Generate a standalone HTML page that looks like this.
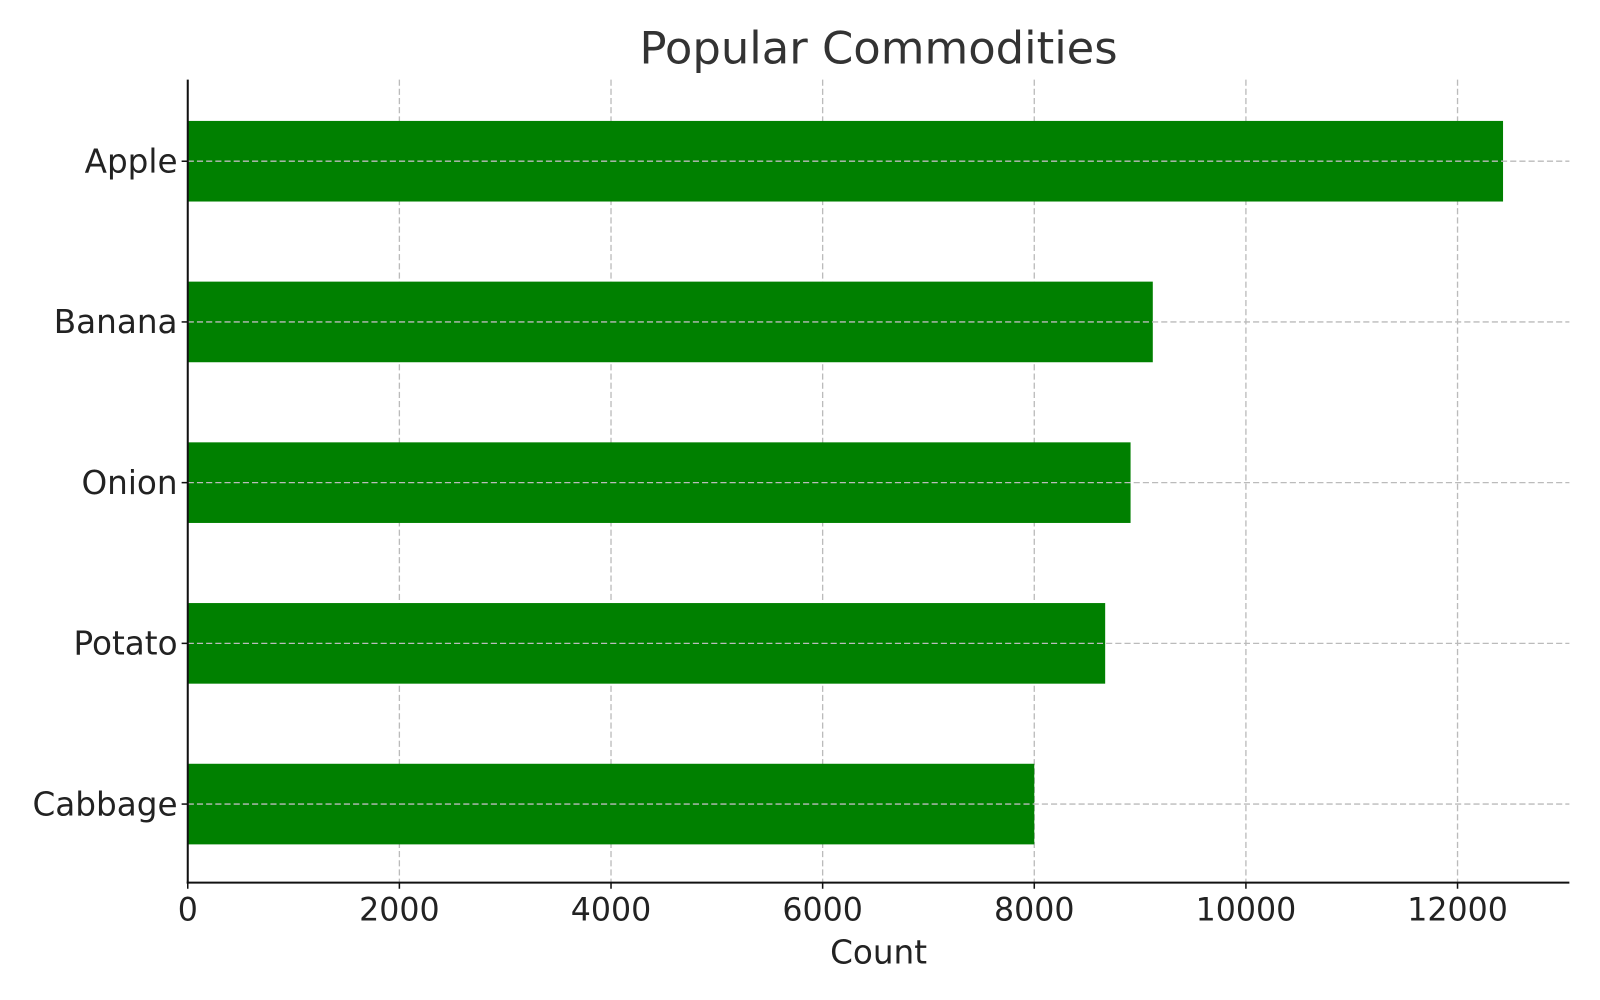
<!DOCTYPE html>
<html><head><meta charset="utf-8">
<style>
html,body{margin:0;padding:0;background:#fff;}
svg{display:block;font-family:"DejaVu Sans","Liberation Sans",sans-serif;}
</style></head>
<body>
<svg id="chart" width="1600" height="1000" viewBox="0 0 1600 1000">
<g transform="scale(1.0204)">
<text x="861" y="62" text-anchor="middle" font-size="44" fill="#333">Popular Commodities</text>
<g id="grid"></g>
<g id="bars"></g>
<g id="hgrid"></g>
<g id="axes"></g>
<text x="861" y="944" text-anchor="middle" font-size="32" fill="#222">Count</text>
</g>
</svg>
<script>
const categories = ["Apple","Banana","Onion","Potato","Cabbage"];
const values = [12430, 9120, 8910, 8670, 8000];
const xTicks = [0, 2000, 4000, 6000, 8000, 10000, 12000];

const NS = "http://www.w3.org/2000/svg";
const plotLeft = 184, plotRight = 1538, plotTop = 78, plotBottom = 865;
function xScale(v){ return plotLeft + v / 2000 * 207.4; }
function yScale(i){ return 158 + i * 157.5; }
const barH = 79;

function mk(tag, attrs, parent){
  const e = document.createElementNS(NS, tag);
  for (const k in attrs) e.setAttribute(k, attrs[k]);
  parent.appendChild(e);
  return e;
}
const gridG = document.getElementById("grid");
const hgridG = document.getElementById("hgrid");
const barsG = document.getElementById("bars");
const axesG = document.getElementById("axes");

xTicks.forEach(t => {
  const x = xScale(t);
  if (t > 0) {
    const g = mk("line", {x1:x, x2:x, y1:plotTop, y2:plotBottom, stroke:"#bbb", "stroke-width":1.3, "stroke-dasharray":"6,3"}, gridG);
    
    
  }
  const tk = mk("line", {x1:x, x2:x, y1:plotBottom, y2:plotBottom+6, stroke:"#111", "stroke-width":1.5}, axesG);
  
  
  const lb = mk("text", {x:x, y:plotBottom+37, "text-anchor":"middle", "font-size":31, fill:"#222"}, axesG);
  lb.textContent = t;
  
  
});

categories.forEach((c, i) => {
  const y = yScale(i);
  const r = mk("rect", {x:xScale(0), y:y-barH/2, width:xScale(values[i])-xScale(0), height:barH, fill:"#008000"}, barsG);
  
  
  const g = mk("line", {x1:plotLeft, x2:plotRight, y1:y, y2:y, stroke:"#bbb", "stroke-width":1.3, "stroke-dasharray":"6,3"}, hgridG);
  
  
  const tk = mk("line", {x1:plotLeft-6, x2:plotLeft, y1:y, y2:y, stroke:"#111", "stroke-width":1.5}, axesG);
  
  
  const lb = mk("text", {x:plotLeft-10, y:y+11, "text-anchor":"end", "font-size":32, fill:"#222"}, axesG);
  lb.textContent = c;
  
  
});

const ya = mk("line", {x1:plotLeft, x2:plotLeft, y1:plotTop, y2:plotBottom+1, stroke:"#111", "stroke-width":2}, axesG);


const xa = mk("line", {x1:plotLeft-1, x2:plotRight, y1:plotBottom, y2:plotBottom, stroke:"#111", "stroke-width":2}, axesG);


</script>
</body></html>
